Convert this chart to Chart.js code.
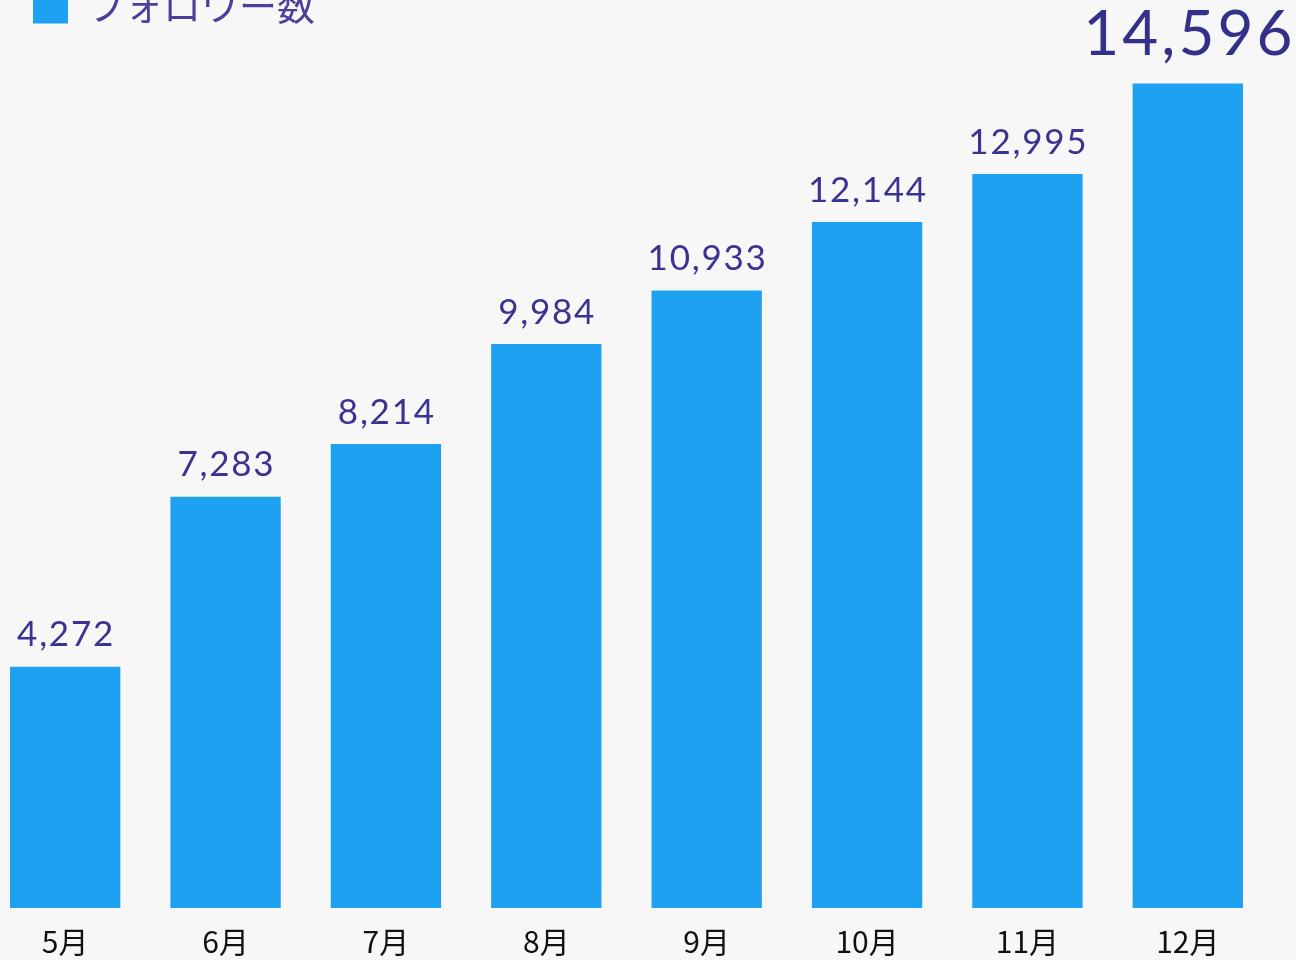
<!DOCTYPE html>
<html>
<head>
<meta charset="utf-8">
<script src="https://cdn.jsdelivr.net/npm/chart.js@4"></script>
<style>
  html, body { margin: 0; padding: 0; background: #f7f7f7; overflow: hidden; }
  #wrap { position: absolute; left: -15px; top: -61px; width: 1311px; height: 1037px; }
</style>
</head>
<body>
<div id="wrap"><canvas id="myChart"></canvas></div>
<script>
var months = ['5月', '6月', '7月', '8月', '9月', '10月', '11月', '12月'];
var followers = [4272, 7283, 8214, 9984, 10933, 12144, 12995, 14596];
var seriesLabel = 'フォロワー数';

const ctx = document.getElementById('myChart');

// draws the numbers on top of each bar, the last one bigger
const valueLabels = {
  id: 'valueLabels',
  afterDatasetsDraw(chart) {
    const c = chart.ctx;
    const meta = chart.getDatasetMeta(0);
    c.save();
    c.textAlign = 'center';
    c.textBaseline = 'bottom';
    meta.data.forEach(function (bar, i) {
      const last = i === meta.data.length - 1;
      const size = last ? 62 : 35;
      const sp = size * 0.05;
      c.fillStyle = last ? '#33308a' : '#3a3391';
      c.font = size + 'px Lato, "Noto Sans", sans-serif';
      c.letterSpacing = sp + 'px';
      c.fillText(followers[i].toLocaleString('en-US'), bar.x + sp / 2, bar.y - (last ? 18 : 14));
    });
    c.restore();
  }
};

new Chart(ctx, {
  type: 'bar',
  data: {
    labels: months,
    datasets: [{
      label: seriesLabel,
      data: followers,
      backgroundColor: 'rgb(31, 161, 242)',
      borderWidth: 0,
      barPercentage: 0.86,
      categoryPercentage: 0.8
    }]
  },
  options: {
    responsive: true,
    maintainAspectRatio: false,
    animation: false,
    layout: { padding: { left: 0, right: 28, top: 0, bottom: 0 } },
    plugins: {
      tooltip: { enabled: false },
      legend: {
        display: true,
        align: 'start',
        labels: {
          boxWidth: 35,
          boxHeight: 35,
          padding: 48,
          color: '#4a3f9a',
          font: { family: '"Noto Sans CJK JP"', size: 38 }
        }
      }
    },
    scales: {
      x: {
        grid: { display: false, drawTicks: false },
        border: { display: false },
        ticks: {
          color: '#111',
          padding: 16,
          font: { family: '"Noto Sans CJK JP"', size: 30 }
        }
      },
      y: {
        display: false,
        min: 0,
        max: 15456
      }
    }
  },
  plugins: [valueLabels]
});
</script>
</body>
</html>
